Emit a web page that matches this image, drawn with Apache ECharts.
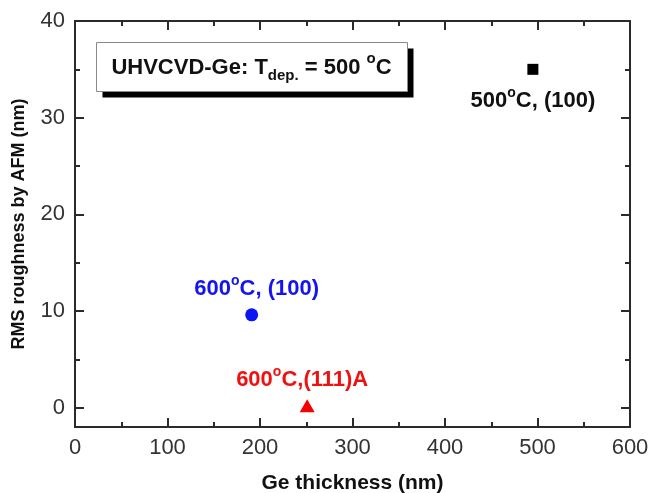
<!DOCTYPE html>
<html><head><meta charset="utf-8">
<script src="https://cdn.jsdelivr.net/npm/echarts@6/dist/echarts.min.js"></script>
<style>html,body{margin:0;padding:0;background:#fff}#c{width:650px;height:493px}</style>
</head><body><div id="c"></div>
<script>
// Ge thickness (nm) and RMS roughness (nm) for each growth condition
const thickness500_100 = [495];
const rms500_100 = [35.0];
const thickness600_100 = [191];
const rms600_100 = [9.6];
const thickness600_111A = [251];
const rms600_111A = [0.2];

const xTicks = [0, 100, 200, 300, 400, 500, 600];
const yTicks = [0, 10, 20, 30, 40];
const yMinorTicks = [5, 15, 25, 35];

const FONT = '"Liberation Sans", Arial, sans-serif';
const AXIS_COLOR = '#2a2a2a';

const zip = (xs, ys) => xs.map((x, i) => [x, ys[i]]);

const chart = echarts.init(document.getElementById('c'), null, {renderer: 'canvas'});

const baseY = {
  type: 'value', min: -2, max: 40,
  splitLine: {show: false},
  axisLine: {show: true, onZero: false, lineStyle: {color: AXIS_COLOR, width: 2}}
};
const baseX = {
  type: 'value', min: 0, max: 600, interval: 100,
  splitLine: {show: false},
  axisLine: {show: true, onZero: false, lineStyle: {color: AXIS_COLOR, width: 2}}
};

function labelRich(color) {
  return {
    b: {fontFamily: FONT, fontWeight: 'bold', fontSize: 22, color: color, verticalAlign: 'bottom', lineHeight: 26},
    s: {fontFamily: FONT, fontWeight: 'bold', fontSize: 14, color: color, verticalAlign: 'top', lineHeight: 26}
  };
}

const option = {
  animation: false,
  backgroundColor: '#fff',
  grid: {left: 75, right: 20, top: 21, bottom: 66, containLabel: false, outerBoundsMode: 'none'},
  xAxis: [
    Object.assign({}, baseX, {
      position: 'bottom',
      name: 'Ge thickness (nm)', nameLocation: 'middle', nameGap: 46,
      nameTextStyle: {fontFamily: FONT, fontWeight: 'bold', fontSize: 21, color: '#111'},
      axisTick: {show: true, inside: true, length: 9, lineStyle: {color: AXIS_COLOR, width: 2}},
      minorTick: {show: true, splitNumber: 2, length: 5, lineStyle: {color: AXIS_COLOR, width: 2}},
      axisLabel: {fontFamily: FONT, fontSize: 22, color: '#333', margin: 10,
        customValues: xTicks}
    }),
    Object.assign({}, baseX, {
      position: 'top',
      axisTick: {show: true, inside: true, length: 9, lineStyle: {color: AXIS_COLOR, width: 2}},
      minorTick: {show: true, splitNumber: 2, length: 5, lineStyle: {color: AXIS_COLOR, width: 2}},
      axisLabel: {show: false}
    })
  ],
  yAxis: [
    Object.assign({}, baseY, {
      position: 'left',
      name: 'RMS roughness by AFM (nm)', nameLocation: 'middle', nameGap: 47,
      nameTextStyle: {fontFamily: FONT, fontWeight: 'bold', fontSize: 18, color: '#111'},
      axisTick: {show: true, inside: true, length: 9, customValues: yTicks,
        lineStyle: {color: AXIS_COLOR, width: 2}},
      axisLabel: {fontFamily: FONT, fontSize: 22, color: '#333', margin: 10,
        customValues: yTicks}
    }),
    Object.assign({}, baseY, {
      position: 'left',
      axisTick: {show: true, inside: true, length: 5, customValues: yMinorTicks,
        lineStyle: {color: AXIS_COLOR, width: 2}},
      axisLabel: {show: false}
    }),
    Object.assign({}, baseY, {
      position: 'right',
      axisTick: {show: true, inside: true, length: 9, customValues: yTicks,
        lineStyle: {color: AXIS_COLOR, width: 2}},
      axisLabel: {show: false}
    }),
    Object.assign({}, baseY, {
      position: 'right',
      axisTick: {show: true, inside: true, length: 5, customValues: yMinorTicks,
        lineStyle: {color: AXIS_COLOR, width: 2}},
      axisLabel: {show: false}
    })
  ],
  series: [
    {
      name: '500°C, (100)', type: 'scatter', xAxisIndex: 0, yAxisIndex: 0,
      symbol: 'rect', symbolSize: 11,
      itemStyle: {color: '#000', opacity: 1},
      data: zip(thickness500_100, rms500_100),
      label: {show: true, position: 'bottom', distance: 11,
        formatter: '{b|500}{s|o}{b|C, (100)}', rich: labelRich('#111')}
    },
    {
      name: '600°C, (100)', type: 'scatter', xAxisIndex: 0, yAxisIndex: 0,
      symbol: 'circle', symbolSize: 13,
      itemStyle: {color: '#0a14f5', opacity: 1},
      data: zip(thickness600_100, rms600_100),
      label: {show: true, position: 'top', distance: 8, offset: [5, 0],
        formatter: '{b|600}{s|o}{b|C, (100)}', rich: labelRich('#1414f0')}
    },
    {
      name: '600°C,(111)A', type: 'scatter', xAxisIndex: 0, yAxisIndex: 0,
      symbol: 'triangle', symbolSize: [15, 13],
      itemStyle: {color: '#f50000', opacity: 1},
      data: zip(thickness600_111A, rms600_111A),
      label: {show: true, position: 'top', distance: 8, offset: [-5, 0],
        formatter: '{b|600}{s|o}{b|C,(111)A}', rich: labelRich('#f01010')}
    }
  ],
  graphic: [
    {
      type: 'group', left: 96, top: 42,
      children: [
        {type: 'rect', shape: {x: 6, y: 6, width: 311, height: 49}, style: {fill: '#000'}},
        {type: 'rect', shape: {x: 0, y: 0, width: 311, height: 49},
          style: {fill: '#fff', stroke: '#888', lineWidth: 1}},
        {type: 'text', x: 155, y: 25,
          style: {
            text: '{b|UHVCVD-Ge: T}{sub|dep.}{b| = 500 }{sup|o}{b|C}',
            align: 'center', verticalAlign: 'middle',
            rich: {
              b: {fontFamily: FONT, fontWeight: 'bold', fontSize: 22, fill: '#111', verticalAlign: 'middle', lineHeight: 32},
              sub: {fontFamily: FONT, fontWeight: 'bold', fontSize: 15, fill: '#111', verticalAlign: 'bottom', lineHeight: 32},
              sup: {fontFamily: FONT, fontWeight: 'bold', fontSize: 15, fill: '#111', verticalAlign: 'top', lineHeight: 32}
            }
          }
        }
      ]
    }
  ]
};
chart.setOption(option);
</script>
</body></html>
